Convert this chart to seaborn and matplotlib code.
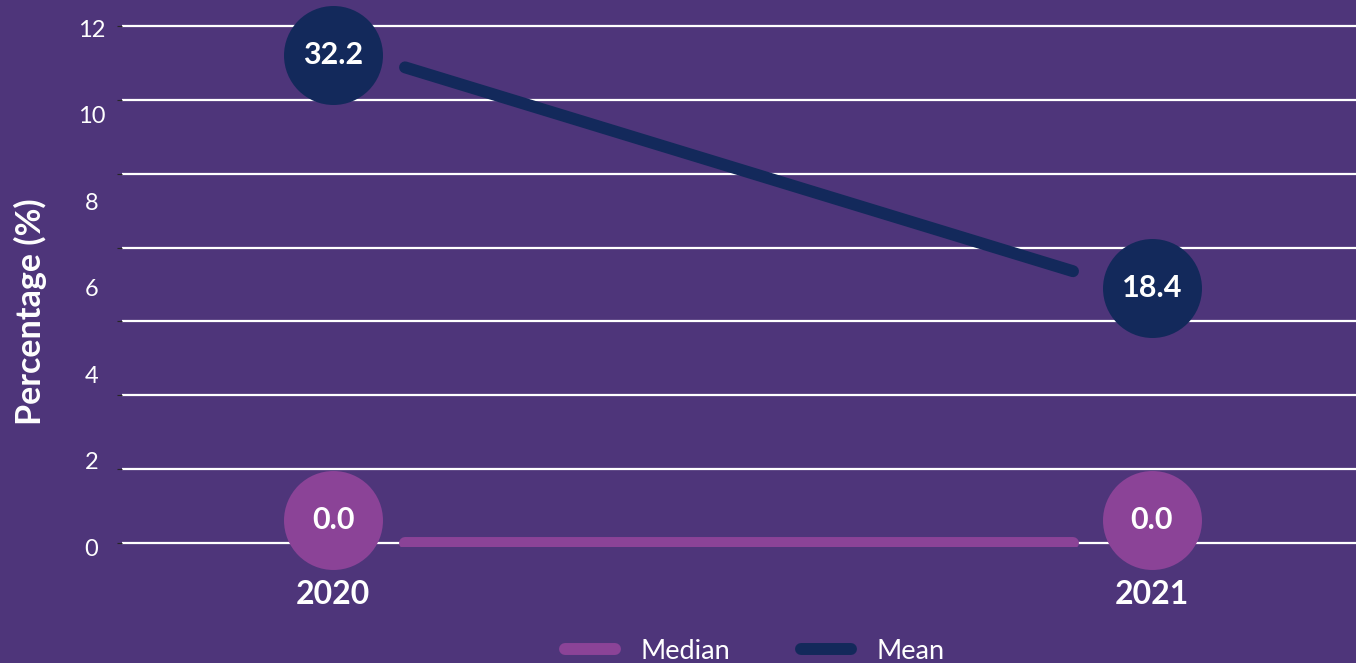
import matplotlib
matplotlib.use("Agg")
import matplotlib.pyplot as plt
from matplotlib.transforms import offset_copy, ScaledTranslation
from matplotlib.lines import Line2D
import seaborn as sns
import pandas as pd

# ---- data ----
years = ["2020", "2021"]
median_values = [0.0, 0.0]
mean_values = [32.2, 18.4]
series_names = ["Median", "Mean"]
y_tick_labels = [0, 2, 4, 6, 8, 10, 12]
y_label = "Percentage (%)"

# ---- style ----
BG = "#4E357A"
NAVY = "#13295B"
PINK = "#8B4397"
palette = {"Median": PINK, "Mean": NAVY}

sns.set_style("white")
plt.rcParams["font.family"] = ["Lato", "DejaVu Sans"]

df = pd.DataFrame({
    "x": list(range(len(years))) * 2,
    "value": median_values + mean_values,
    "series": [series_names[0]] * len(years) + [series_names[1]] * len(years),
})

fig = plt.figure(figsize=(13.56, 6.63), dpi=100, facecolor=BG)
ax = fig.add_axes([0.0900, 0.17496, 0.9100, 0.79186])
ax.set_facecolor(BG)

sns.lineplot(data=df, x="x", y="value", hue="series", hue_order=series_names,
             palette=palette, linewidth=8.6, solid_capstyle="round",
             legend=False, ax=ax, zorder=3)

ax.set_xlim(-0.4237, 1.4237)
ax.set_ylim(-0.271, 35.271)
ax.set_yticks(range(0, 36, 5))
ax.yaxis.grid(True, color="white", linewidth=1.6)
ax.xaxis.grid(False)
ax.set_axisbelow(True)
for s in ax.spines.values():
    s.set_visible(False)
ax.tick_params(axis="y", left=False, labelleft=False)
ax.set_xlabel("")
ax.set_ylabel("")

# year tick labels
ax.set_xticks(range(len(years)))
ax.set_xticklabels(years, fontsize=23, fontweight="bold", color="white")
ax.tick_params(axis="x", length=0, pad=24)
dxs = [-72, 79]
for lbl, dx in zip(ax.get_xticklabels(), dxs):
    lbl.set_transform(lbl.get_transform() + ScaledTranslation(dx / 100, 0, fig.dpi_scale_trans))

# value badges
mean_dy = [12, -17]
median_dy = [23, 23]
for vals, dys, col in [(median_values, median_dy, PINK), (mean_values, mean_dy, NAVY)]:
    for i, (v, dy) in enumerate(zip(vals, dys)):
        tr = offset_copy(ax.transData, fig=fig, x=dxs[i], y=dy, units="dots")
        ax.scatter([i], [v], s=5080, color=col, transform=tr, zorder=5,
                   clip_on=False, linewidths=0)
        ax.text(i, v, f"{v:.1f}", transform=tr, ha="center", va="center",
                fontsize=22, fontweight="bold", color="white", zorder=6,
                clip_on=False)

# left axis labels
ax2 = ax.twinx()
ax2.set_ylim(0.0918, 12.139)
ax2.yaxis.tick_left()
ax2.yaxis.set_label_position("left")
ax2.set_yticks(y_tick_labels)
ax2.set_yticklabels([str(t) for t in y_tick_labels], fontsize=17, color="white")
ax2.tick_params(axis="y", length=0, pad=22)
for lbl in ax2.get_yticklabels():
    lbl.set_horizontalalignment("center")
for s in ax2.spines.values():
    s.set_visible(False)
ax2.set_ylabel(y_label, fontsize=24.5, fontweight="bold", color="white",
               rotation=90, ha="center", va="center")
ax2.yaxis.set_label_coords(-0.0746, 0.449)
ax2.grid(False)

# legend
handles = [Line2D([0], [0], color=palette[n], lw=8.6, solid_capstyle="round")
           for n in series_names]
leg = fig.legend(handles, series_names, loc="center", ncol=2, frameon=False,
                 bbox_to_anchor=(0.5565, 0.018), bbox_transform=fig.transFigure,
                 fontsize=19.5, handlelength=1.85, handletextpad=0.95,
                 columnspacing=2.6, labelcolor="white")

fig.savefig("out.png", dpi=100, facecolor=BG)
